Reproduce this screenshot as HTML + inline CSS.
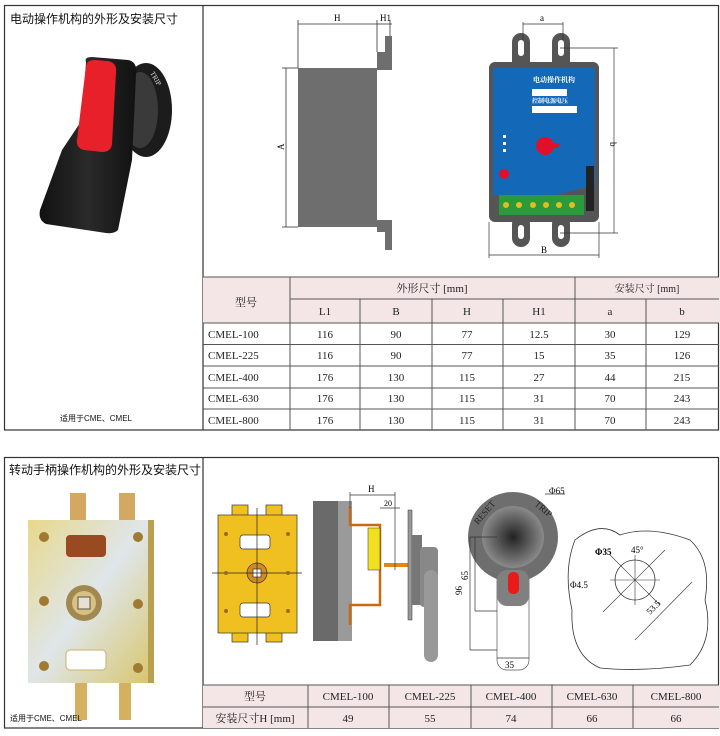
<!DOCTYPE html>
<html><head><meta charset="utf-8"><style>
html,body{margin:0;padding:0;background:#fff;}
body{width:720px;height:736px;position:relative;overflow:hidden;font-family:"Liberation Serif","Noto Serif CJK SC",serif;}
.abs{position:absolute;}
.t{font-family:"Liberation Sans","Noto Sans CJK SC",sans-serif;font-size:12px;color:#111;}
svg text{font-family:"Liberation Serif","Noto Serif CJK SC",serif;}
</style></head><body>
<svg class="abs" style="left:0;top:0" width="720" height="736" viewBox="0 0 720 736">
<defs>
<radialGradient id="kn" cx="0.5" cy="0.5" r="0.5"><stop offset="0" stop-color="#222"/><stop offset="1" stop-color="#8a8a8a"/></radialGradient>
<linearGradient id="yp" x1="0" y1="0" x2="1" y2="1"><stop offset="0" stop-color="#e8d88a"/><stop offset="0.5" stop-color="#dfe6ea"/><stop offset="1" stop-color="#d8c770"/></linearGradient>
<linearGradient id="hd" x1="0" y1="0" x2="1" y2="0"><stop offset="0" stop-color="#111"/><stop offset="0.5" stop-color="#2a2a2a"/><stop offset="1" stop-color="#111"/></linearGradient>
</defs>
<g fill="none" stroke="#333" stroke-width="1.2">
<rect x="4.5" y="5.5" width="714" height="424.5"/>
<line x1="203" y1="5" x2="203" y2="430"/>
<rect x="4.5" y="457.5" width="714" height="270.5"/>
<line x1="203" y1="457" x2="203" y2="728"/>
</g>
<rect x="203" y="277" width="516" height="46" fill="#f4e6e6"/>
<g stroke="#555" stroke-width="1">
<line x1="203" y1="277" x2="719" y2="277"/>
<line x1="290" y1="299" x2="719" y2="299"/>
<line x1="203" y1="323" x2="719" y2="323"/>
<line x1="203" y1="344.5" x2="719" y2="344.5"/>
<line x1="203" y1="366" x2="719" y2="366"/>
<line x1="203" y1="388" x2="719" y2="388"/>
<line x1="203" y1="409" x2="719" y2="409"/>
<line x1="290" y1="277" x2="290" y2="430"/>
<line x1="575" y1="277" x2="575" y2="430"/>
<line x1="360" y1="299" x2="360" y2="430"/>
<line x1="432" y1="299" x2="432" y2="430"/>
<line x1="503" y1="299" x2="503" y2="430"/>
<line x1="646" y1="299" x2="646" y2="430"/>
</g>
<g font-size="11" fill="#222" text-anchor="middle">
<text x="246" y="306">型号</text>
<text x="432" y="292">外形尺寸 [mm]</text>
<text x="647" y="292" font-size="10">安装尺寸 [mm]</text>
<text x="325" y="315">L1</text><text x="396" y="315">B</text><text x="467" y="315">H</text><text x="539" y="315">H1</text><text x="610" y="315">a</text><text x="682" y="315">b</text>
</g>
<g font-size="11" fill="#222">
<text x="208" y="338">CMEL-100</text><text x="208" y="359">CMEL-225</text><text x="208" y="381">CMEL-400</text><text x="208" y="402">CMEL-630</text><text x="208" y="424">CMEL-800</text>
</g>
<g font-size="11" fill="#222" text-anchor="middle">
<text x="325" y="338">116</text><text x="396" y="338">90</text><text x="467" y="338">77</text><text x="539" y="338">12.5</text><text x="610" y="338">30</text><text x="682" y="338">129</text>
<text x="325" y="359">116</text><text x="396" y="359">90</text><text x="467" y="359">77</text><text x="539" y="359">15</text><text x="610" y="359">35</text><text x="682" y="359">126</text>
<text x="325" y="381">176</text><text x="396" y="381">130</text><text x="467" y="381">115</text><text x="539" y="381">27</text><text x="610" y="381">44</text><text x="682" y="381">215</text>
<text x="325" y="402">176</text><text x="396" y="402">130</text><text x="467" y="402">115</text><text x="539" y="402">31</text><text x="610" y="402">70</text><text x="682" y="402">243</text>
<text x="325" y="424">176</text><text x="396" y="424">130</text><text x="467" y="424">115</text><text x="539" y="424">31</text><text x="610" y="424">70</text><text x="682" y="424">243</text>
</g>
<rect x="203" y="685" width="516" height="43" fill="#f4e6e6"/>
<g stroke="#555" stroke-width="1">
<line x1="203" y1="685" x2="719" y2="685"/>
<line x1="203" y1="707" x2="719" y2="707"/>
<line x1="308" y1="685" x2="308" y2="728"/>
<line x1="389" y1="685" x2="389" y2="728"/>
<line x1="471" y1="685" x2="471" y2="728"/>
<line x1="552" y1="685" x2="552" y2="728"/>
<line x1="633" y1="685" x2="633" y2="728"/>
</g>
<g font-size="11" fill="#222" text-anchor="middle">
<text x="255" y="700">型号</text><text x="348" y="700">CMEL-100</text><text x="430" y="700">CMEL-225</text><text x="511" y="700">CMEL-400</text><text x="592" y="700">CMEL-630</text><text x="676" y="700">CMEL-800</text>
<text x="255" y="722">安装尺寸H  [mm]</text><text x="348" y="722">49</text><text x="430" y="722">55</text><text x="511" y="722">74</text><text x="592" y="722">66</text><text x="676" y="722">66</text>
</g>
<!-- handle photo -->
<ellipse cx="146" cy="110" rx="26" ry="47" fill="#1c1c1c"/>
<ellipse cx="140" cy="110" rx="18" ry="38" fill="#3a3a3a"/>
<path d="M86 62 Q84 57 92 57 L128 60 Q138 62 136 75 L132 160 L118 230 Q114 234 106 233 L46 224 Q38 220 40 210 L62 150 L82 120 Z" fill="url(#hd)"/>
<path d="M86 66 Q87 60 95 60 L108 61 Q117 63 116 72 L112 144 Q111 152 102 152 L84 150 Q76 148 77 140 Z" fill="#e8202a"/>
<text x="150" y="73" font-size="7" fill="#ddd" transform="rotate(60 150 73)">TRIP</text>
<!-- side view grey box -->
<path d="M298 68 L377 68 L377 52 L385 52 L385 36 L392 36 L392 70 L377 70 L377 80 L377 205 L377 220 L392 220 L392 250 L385 250 L385 232 L377 232 L377 227 L298 227 Z" fill="#6e6e6e"/>
<g stroke="#333" stroke-width="0.8" fill="none">
<line x1="298" y1="20" x2="298" y2="68"/><line x1="377" y1="20" x2="377" y2="52"/><line x1="390" y1="20" x2="390" y2="36"/>
<line x1="298" y1="24" x2="377" y2="24"/><line x1="377" y1="24" x2="392" y2="24"/>
<line x1="282" y1="68" x2="298" y2="68"/><line x1="282" y1="227" x2="298" y2="227"/><line x1="286" y1="68" x2="286" y2="227"/>
</g>
<text x="334" y="21" font-size="9">H</text><text x="380" y="21" font-size="9">H1</text>
<text x="284" y="150" font-size="9" transform="rotate(-90 284 150)">A</text>
<!-- blue device -->
<g fill="#555">
<rect x="512" y="33" width="18" height="40" rx="9"/><rect x="552" y="33" width="18" height="40" rx="9"/>
<rect x="512" y="215" width="18" height="32" rx="9"/><rect x="552" y="215" width="18" height="32" rx="9"/>
</g>
<g fill="#fff"><rect x="518" y="40" width="6" height="16" rx="3"/><rect x="558" y="40" width="6" height="16" rx="3"/><rect x="518" y="225" width="6" height="14" rx="3"/><rect x="558" y="225" width="6" height="14" rx="3"/></g>
<rect x="489" y="62" width="110" height="160" rx="6" fill="#555"/>
<path d="M493 68 L595 68 L595 185 L555 195 L493 195 Z" fill="#1468b8"/>
<rect x="499" y="195" width="85" height="20" fill="#2a9a3a"/>
<g fill="#e0c020"><circle cx="506" cy="205" r="3"/><circle cx="519" cy="205" r="3"/><circle cx="533" cy="205" r="3"/><circle cx="546" cy="205" r="3"/><circle cx="559" cy="205" r="3"/><circle cx="572" cy="205" r="3"/></g>
<rect x="586" y="166" width="8" height="45" fill="#222"/>
<text x="533" y="82" font-size="7" fill="#fff" font-weight="bold">电动操作机构</text>
<rect x="532" y="89" width="35" height="7" fill="#fff"/>
<text x="532" y="103" font-size="6" fill="#fff" font-weight="bold">控制电源电压</text>
<rect x="532" y="106" width="45" height="7" fill="#fff"/>
<circle cx="545" cy="146" r="9" fill="#e0102a"/><rect x="545" y="143" width="14" height="5" rx="2" fill="#e0102a"/>
<circle cx="504" cy="174" r="5" fill="#e0102a"/>
<g fill="#fff"><rect x="503" y="135" width="3" height="3"/><rect x="503" y="142" width="3" height="3"/><rect x="503" y="149" width="3" height="3"/></g>
<g stroke="#333" stroke-width="0.7" fill="none"><line x1="523" y1="22" x2="523" y2="40"/><line x1="563" y1="22" x2="563" y2="40"/><line x1="523" y1="24" x2="563" y2="24"/>
<line x1="560" y1="48" x2="618" y2="48"/><line x1="560" y1="233" x2="618" y2="233"/><line x1="614" y1="48" x2="614" y2="233"/>
<line x1="489" y1="222" x2="489" y2="258"/><line x1="599" y1="222" x2="599" y2="258"/><line x1="489" y1="255" x2="599" y2="255"/></g>
<text x="540" y="21" font-size="9">a</text><text x="541" y="253" font-size="9">B</text><text x="610" y="142" font-size="9" transform="rotate(90 610 142)">b</text>
<!-- bottom-left photo -->
<rect x="70" y="493" width="16" height="30" fill="#d4a860"/><rect x="119" y="493" width="16" height="30" fill="#d4a860"/>
<rect x="75" y="680" width="12" height="40" fill="#d4b060"/><rect x="119" y="680" width="12" height="40" fill="#d4b060"/>
<rect x="28" y="520" width="120" height="163" fill="url(#yp)"/>
<rect x="148" y="520" width="6" height="163" fill="#b8a050"/>
<rect x="66" y="535" width="40" height="22" rx="4" fill="#9a4a20"/>
<rect x="66" y="650" width="40" height="20" rx="4" fill="#fff" stroke="#c8b070"/>
<circle cx="84" cy="603" r="18" fill="#a08850"/><circle cx="84" cy="603" r="12" fill="#d8c080"/><rect x="78" y="597" width="12" height="12" fill="#e8e0d0" stroke="#555"/>
<g fill="#a07a30"><circle cx="44" cy="537" r="5"/><circle cx="138" cy="537" r="5"/><circle cx="44" cy="601" r="5"/><circle cx="138" cy="604" r="5"/><circle cx="44" cy="666" r="5"/><circle cx="138" cy="668" r="5"/></g>
<!-- yellow plate drawing -->
<g fill="#f0c020" stroke="#333" stroke-width="0.7">
<rect x="232" y="505" width="16" height="14"/><rect x="266" y="505" width="16" height="14"/>
<rect x="232" y="628" width="16" height="14"/><rect x="266" y="628" width="16" height="14"/>
<rect x="218" y="515" width="79" height="118"/></g>
<g fill="#fff" stroke="#333" stroke-width="0.7"><rect x="240" y="535" width="30" height="14" rx="3"/><rect x="240" y="603" width="30" height="14" rx="3"/></g>
<circle cx="257" cy="573" r="10" fill="#d08a20" stroke="#333" stroke-width="0.7"/><rect x="253" y="569" width="8" height="8" fill="#fff" stroke="#333" stroke-width="0.7"/>
<g stroke="#222" stroke-width="0.7"><line x1="257" y1="508" x2="257" y2="645"/><line x1="212" y1="573" x2="302" y2="573"/></g>
<g fill="#9a6a20"><circle cx="226" cy="534" r="2"/><circle cx="288" cy="534" r="2"/><circle cx="226" cy="573" r="2"/><circle cx="288" cy="573" r="2"/><circle cx="226" cy="611" r="2"/><circle cx="288" cy="611" r="2"/></g>
<!-- side assembly -->
<rect x="313" y="501" width="25" height="140" fill="#6a6a6a"/>
<rect x="338" y="501" width="14" height="140" fill="#9a9a9a"/>
<path d="M350 507 L350 525 L380 525 L380 605 L350 605 L350 625" fill="none" stroke="#c86a10" stroke-width="2.5"/>
<rect x="368" y="528" width="12" height="42" fill="#f0e020" stroke="#333" stroke-width="0.5"/>
<rect x="384" y="563" width="30" height="4" fill="#e08a10"/>
<rect x="408" y="510" width="4" height="110" fill="#999" stroke="#333" stroke-width="0.5"/>
<rect x="412" y="535" width="10" height="70" fill="#777"/>
<rect x="420" y="547" width="18" height="60" rx="4" fill="#888"/>
<rect x="424" y="570" width="14" height="92" rx="7" fill="#999"/>
<g stroke="#333" stroke-width="0.7"><line x1="350" y1="492" x2="350" y2="508"/><line x1="395" y1="492" x2="395" y2="570"/><line x1="350" y1="495" x2="395" y2="495"/><line x1="380" y1="508" x2="400" y2="508"/></g>
<text x="368" y="492" font-size="9">H</text><text x="384" y="506" font-size="8">20</text>
<!-- knob -->
<rect x="497" y="570" width="32" height="100" rx="10" fill="#fff" stroke="#555" stroke-width="0.7"/>
<circle cx="513" cy="537" r="45" fill="#6e6e6e"/>
<circle cx="513" cy="537" r="31" fill="url(#kn)"/>
<rect x="497" y="570" width="32" height="36" rx="10" fill="#808080"/>
<rect x="508" y="572" width="11" height="22" rx="5" fill="#e81a1a"/>
<text x="478" y="525" font-size="9" fill="#222" transform="rotate(-50 478 525)">RESET</text>
<text x="534" y="505" font-size="9" fill="#222" transform="rotate(40 534 505)">TRIP</text>
<g stroke="#333" stroke-width="0.7" fill="none"><line x1="470" y1="537" x2="470" y2="650"/><line x1="475" y1="537" x2="475" y2="611"/><line x1="470" y1="537" x2="497" y2="537"/><line x1="475" y1="611" x2="497" y2="611"/><line x1="470" y1="650" x2="497" y2="650"/><line x1="497" y1="658" x2="529" y2="658"/><line x1="545" y1="494" x2="565" y2="494"/></g>
<text x="462" y="595" font-size="9" transform="rotate(-90 462 595)">96</text><text x="468" y="580" font-size="9" transform="rotate(-90 468 580)">65</text>
<text x="505" y="668" font-size="9">35</text><text x="549" y="494" font-size="9">Φ65</text>
<!-- blob -->
<path d="M575 540 Q600 520 620 535 Q650 525 690 540 Q712 560 705 600 Q715 640 690 665 Q640 672 600 668 Q570 655 572 610 Q563 570 575 540 Z" fill="none" stroke="#333" stroke-width="0.8"/>
<circle cx="635" cy="580" r="20" fill="none" stroke="#333" stroke-width="0.8"/>
<g stroke="#333" stroke-width="0.6"><line x1="603" y1="612" x2="665" y2="550"/><line x1="610" y1="555" x2="660" y2="605"/><line x1="635" y1="555" x2="635" y2="605"/><line x1="610" y1="580" x2="660" y2="580"/><line x1="635" y1="640" x2="692" y2="582"/></g>
<text x="595" y="555" font-size="9" font-weight="bold">Φ35</text><text x="631" y="553" font-size="9">45°</text><text x="570" y="588" font-size="9">Φ4.5</text>
<text x="650" y="615" font-size="9" transform="rotate(-45 650 615)">53.5</text>
</svg>
<div class="abs t" style="left:10px;top:10px;">电动操作机构的外形及安装尺寸</div>
<div class="abs t" style="left:60px;top:413px;font-size:8px;">适用于CME、CMEL</div>
<div class="abs t" style="left:9px;top:461px;">转动手柄操作机构的外形及安装尺寸</div>
<div class="abs t" style="left:10px;top:713px;font-size:8px;">适用于CME、CMEL</div>
</body></html>
